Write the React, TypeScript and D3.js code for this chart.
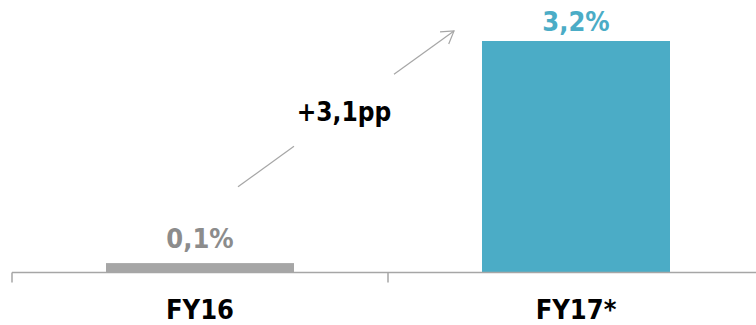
import React, { useEffect } from "react";
import * as d3 from "d3";

const categories: string[] = ["FY16", "FY17*"];
const values: number[] = [0.13, 3.2];
const valueLabels: string[] = ["0,1%", "3,2%"];
const deltaLabel = "+3,1pp";

const W = 756;
const H = 325;
const FONT = "'DejaVu Sans Condensed', 'DejaVu Sans', sans-serif";
const barColors = ["#A6A6A6", "#4BACC6"];
const labelColors = ["#8C8C8C", "#4BACC6"];
const labelGap = [15.5, 10];
const grey = "#A6A6A6";

export default function App() {
  useEffect(() => {
    document.body.style.margin = "0";
  }, []);

  const baseY = 272.5;
  const x = d3
    .scaleBand<string>()
    .domain(categories)
    .range([12, 764])
    .paddingInner(0.5)
    .paddingOuter(0.25);
  const y = d3.scaleLinear().domain([0, 3.2]).range([baseY, 41]);

  const step = x.step();
  const tickXs = categories.map((c) => (x(c) as number) - step * 0.25);
  tickXs.push((x(categories[categories.length - 1]) as number) + x.bandwidth() + step * 0.25);

  // arrow annotation
  const x0 = (x(categories[0]) as number) + x.bandwidth() / 2;
  const x1 = (x(categories[1]) as number) + x.bandwidth() / 2;
  const sx = x0 + 38;
  const sy = 186.7;
  const ex = x1 - 122;
  const ey = y(values[1]) - 10;
  const t1 = (294 - sx) / (ex - sx);
  const t2 = (394 - sx) / (ex - sx);
  const lerp = (t: number) => [sx + (ex - sx) * t, sy + (ey - sy) * t];
  const [g1x, g1y] = lerp(t1);
  const [g2x, g2y] = lerp(t2);
  const ang = Math.atan2(ey - sy, ex - sx);
  const headLen = 14;
  const headAng = (32 * Math.PI) / 180;
  const h1 = [ex - headLen * Math.cos(ang - headAng), ey - headLen * Math.sin(ang - headAng)];
  const h2 = [ex - headLen * Math.cos(ang + headAng), ey - headLen * Math.sin(ang + headAng)];

  return (
    <svg
      width={W}
      height={H}
      viewBox={`0 0 ${W} ${H}`}
      style={{ position: "absolute", left: 0, top: 0, display: "block" }}
    >
      <rect width={W} height={H} fill="#ffffff" />
      {categories.map((c, i) => (
        <rect
          key={c}
          x={x(c)}
          y={y(values[i])}
          width={x.bandwidth()}
          height={baseY - y(values[i])}
          fill={barColors[i]}
        />
      ))}
      <line x1={12} x2={W} y1={baseY} y2={baseY} stroke={grey} strokeWidth={1.5} />
      {tickXs.map((tx, i) => (
        <line key={i} x1={tx} x2={tx} y1={baseY} y2={baseY + 10} stroke={grey} strokeWidth={1.5} />
      ))}
      {categories.map((c, i) => (
        <text
          key={c}
          x={(x(c) as number) + x.bandwidth() / 2}
          y={y(values[i]) - labelGap[i]}
          textAnchor="middle"
          fontFamily={FONT}
          fontWeight="bold"
          fontSize={27}
          fill={labelColors[i]}
        >
          {valueLabels[i]}
        </text>
      ))}
      {categories.map((c) => (
        <text
          key={c}
          x={(x(c) as number) + x.bandwidth() / 2}
          y={319}
          textAnchor="middle"
          fontFamily={FONT}
          fontWeight="bold"
          fontSize={27}
          fill="#000000"
        >
          {c}
        </text>
      ))}
      <g stroke={grey} strokeWidth={1.2} fill="none">
        <line x1={sx} y1={sy} x2={g1x} y2={g1y} />
        <line x1={g2x} y1={g2y} x2={ex} y2={ey} />
        <polyline points={`${h1[0]},${h1[1]} ${ex},${ey} ${h2[0]},${h2[1]}`} />
      </g>
      <text
        x={(g1x + g2x) / 2}
        y={(g1y + g2y) / 2 + 11}
        textAnchor="middle"
        fontFamily={FONT}
        fontWeight="bold"
        fontSize={26}
        fill="#000000"
      >
        {deltaLabel}
      </text>
    </svg>
  );
}
